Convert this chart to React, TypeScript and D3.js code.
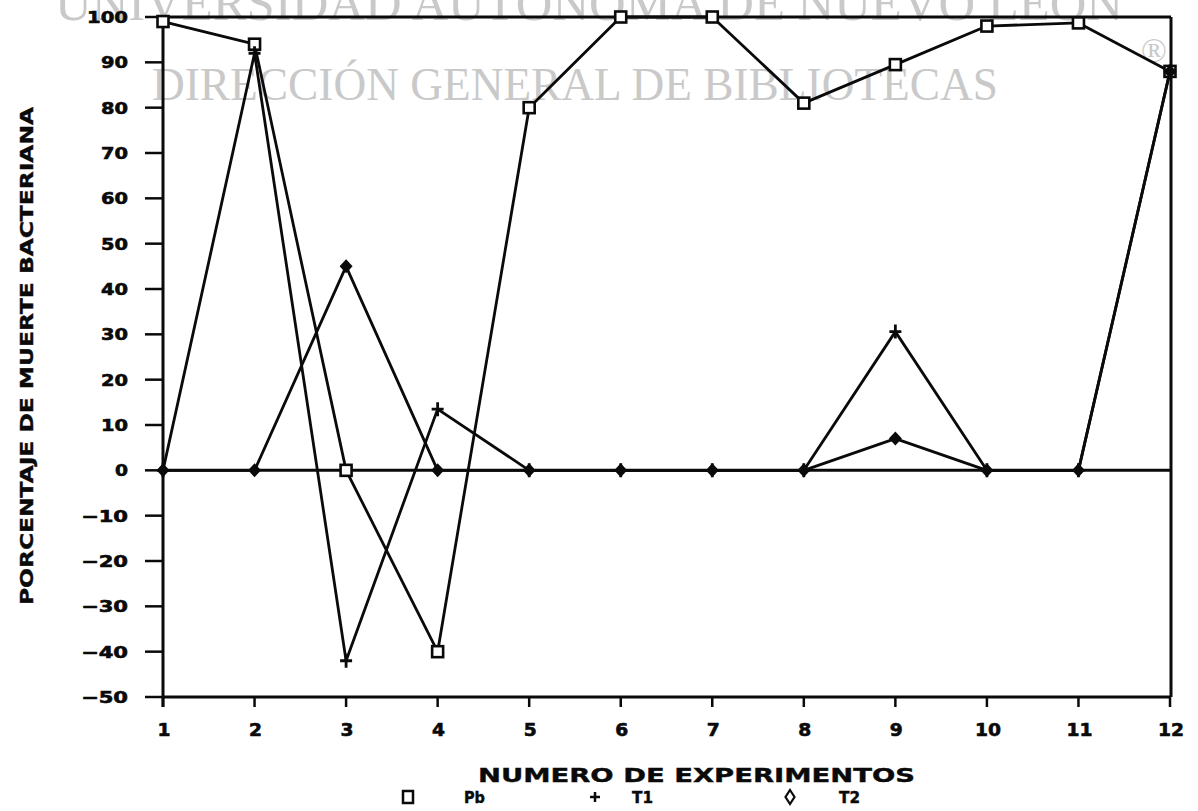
import React from 'react';
import * as d3 from 'd3';

const experiments = [1, 2, 3, 4, 5, 6, 7, 8, 9, 10, 11, 12];
const pbValues = [99, 94, 0, -40, 80, 100, 100, 81, 89.5, 98, 98.7, 88];
const t1Values = [0, 92, -42, 13.5, 0, 0, 0, 0, 30.6, 0, 0, 88];
const t2Values = [0, 0, 45, 0, 0, 0, 0, 0, 7, 0, 0, 88];
const yTickValues = [100, 90, 80, 70, 60, 50, 40, 30, 20, 10, 0, -10, -20, -30, -40, -50];
const xTickLabels = ['1', '2', '3', '4', '5', '6', '7', '8', '9', '10', '11', '12'];
const yTitle = 'PORCENTAJE DE MUERTE BACTERIANA';
const xTitle = 'NUMERO DE EXPERIMENTOS';
const legendNames = ['Pb', 'T1', 'T2'];
const watermark1 = 'UNIVERSIDAD AUTÓNOMA DE NUEVO LEÓN';
const watermark2 = 'DIRECCIÓN GENERAL DE BIBLIOTECAS';

const W = 1198;
const H = 811;
const FONT = "'DejaVu Sans', 'Liberation Sans', sans-serif";

export default function App() {
  const x = d3.scaleLinear().domain([1, 12]).range([163, 1170]);
  const y = d3.scaleLinear().domain([-50, 100]).range([697, 17]);
  const line = d3
    .line<number>()
    .x((_, i) => x(experiments[i]))
    .y((d) => y(d));

  const left = x(1);
  const right = x(12) + 1;
  const top = y(100);
  const bottom = y(-50);
  const ink = '#0a0a0a';
  const sw = 2.8;

  const fmtY = (v: number) => (v < 0 ? '\u2212' + Math.abs(v) : String(v));
  const lenY = (v: number) => String(Math.abs(v)).length * 14 + (v < 0 ? 20 : 0) - 1;

  return (
    <svg
      width={W}
      height={H}
      viewBox={`0 0 ${W} ${H}`}
      style={{ position: 'absolute', left: 0, top: 0, display: 'block', background: '#fff' }}
    >
      <rect x={0} y={0} width={W} height={H} fill="#fff" />
      {/* watermark */}
      <g fill="#c9c9c9" fontFamily="'Liberation Serif', 'DejaVu Serif', serif">
        <text x={55} y={20} fontSize={50} textLength={1068} lengthAdjust="spacingAndGlyphs">
          {watermark1}
        </text>
        <text x={1141} y={62} fontSize={34}>®</text>
        <text x={152} y={100} fontSize={46} textLength={846} lengthAdjust="spacingAndGlyphs">
          {watermark2}
        </text>
      </g>

      {/* frame and axes */}
      <g stroke={ink} strokeWidth={3} fill="none">
        <line x1={left} y1={top} x2={right} y2={top} />
        <line x1={right} y1={top} x2={right} y2={bottom} />
        <line x1={left} y1={top} x2={left} y2={bottom + 10} />
        <line x1={left} y1={bottom} x2={right} y2={bottom} />
        <line x1={left} y1={y(0)} x2={right} y2={y(0)} />
        {yTickValues.map((v) => (
          <line key={'yt' + v} x1={left - 18} y1={y(v)} x2={left} y2={y(v)} strokeWidth={2.5} />
        ))}
        {experiments.map((e) => (
          <line key={'xt' + e} x1={x(e)} y1={bottom} x2={x(e)} y2={bottom + 10} strokeWidth={2.5} />
        ))}
      </g>

      {/* series lines */}
      <g stroke={ink} strokeWidth={sw} fill="none" strokeLinejoin="round">
        <path d={line(pbValues) || ''} />
        <path d={line(t1Values) || ''} />
        <path d={line(t2Values) || ''} />
      </g>

      {/* markers */}
      <g>
        {pbValues.map((v, i) => (
          <rect
            key={'pb' + i}
            x={x(experiments[i]) - 5.5}
            y={y(v) - 5.5}
            width={11}
            height={11}
            fill="#fff"
            stroke={ink}
            strokeWidth={2.6}
          />
        ))}
        {t1Values.map((v, i) => {
          const cx = x(experiments[i]);
          const cy = y(v);
          return (
            <path
              key={'t1' + i}
              d={`M${cx - 6},${cy}H${cx + 6}M${cx},${cy - 7}V${cy + 7}`}
              stroke={ink}
              strokeWidth={2.8}
            />
          );
        })}
        {t2Values.map((v, i) => {
          const cx = x(experiments[i]);
          const cy = y(v);
          return (
            <path
              key={'t2' + i}
              d={`M${cx},${cy - 7}L${cx + 6.5},${cy}L${cx},${cy + 7}L${cx - 6.5},${cy}Z`}
              fill={ink}
            />
          );
        })}
      </g>

      {/* y tick labels */}
      <g fill={ink} stroke={ink} strokeWidth={0.6} fontFamily={FONT} fontWeight="bold" fontSize={16}>
        {yTickValues.map((v) => (
          <text
            key={'yl' + v}
            x={128}
            y={y(v) + 6}
            textAnchor="end"
            textLength={lenY(v)}
            lengthAdjust="spacingAndGlyphs"
          >
            {fmtY(v)}
          </text>
        ))}
      </g>

      {/* x tick labels */}
      <g fill={ink} stroke={ink} strokeWidth={0.6} fontFamily={FONT} fontWeight="bold" fontSize={17}>
        {experiments.map((e, i) => (
          <text
            key={'xl' + e}
            x={x(e) + 1}
            y={736}
            textAnchor="middle"
            textLength={xTickLabels[i].length * 13}
            lengthAdjust="spacingAndGlyphs"
          >
            {xTickLabels[i]}
          </text>
        ))}
      </g>

      {/* y title */}
      <text
        transform="translate(33,356) rotate(-90)"
        textAnchor="middle"
        fill={ink}
        stroke={ink}
        strokeWidth={0.4}
        fontFamily={FONT}
        fontWeight="bold"
        fontSize={18}
        textLength={498}
        lengthAdjust="spacingAndGlyphs"
      >
        {yTitle}
      </text>

      {/* x title */}
      <text
        x={478}
        y={782}
        fill={ink}
        stroke={ink}
        strokeWidth={0.4}
        fontFamily={FONT}
        fontWeight="bold"
        fontSize={20}
        textLength={437}
        lengthAdjust="spacingAndGlyphs"
      >
        {xTitle}
      </text>

      {/* legend */}
      <g fill={ink} stroke={ink} strokeWidth={0.4} fontFamily={FONT} fontWeight="bold" fontSize={15}>
        <rect x={403} y={791} width={10} height={12} fill="none" stroke={ink} strokeWidth={2.5} />
        <text x={464} y={803} textLength={21} lengthAdjust="spacingAndGlyphs">{legendNames[0]}</text>
        <path d="M590,797H600M595,792V802" stroke={ink} strokeWidth={2.5} />
        <text x={632} y={803} textLength={21} lengthAdjust="spacingAndGlyphs">{legendNames[1]}</text>
        <path d="M790,790L794.5,797L790,804L785.5,797Z" fill="none" stroke={ink} strokeWidth={2.2} />
        <text x={839} y={803} textLength={21} lengthAdjust="spacingAndGlyphs">{legendNames[2]}</text>
      </g>
    </svg>
  );
}
